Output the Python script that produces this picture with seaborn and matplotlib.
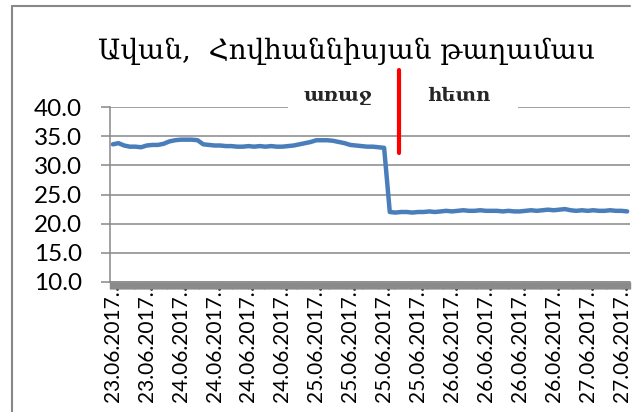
import matplotlib
matplotlib.use("Agg")
import matplotlib.pyplot as plt
import seaborn as sns
import pandas as pd
from matplotlib.ticker import MultipleLocator, FixedLocator
from matplotlib.lines import Line2D
from matplotlib.patches import Rectangle

# ---------------- data ----------------
title = "Ավան,  Հովհաննիսյան թաղամաս"
label_before = "առաջ"
label_after = "հետո"

# hourly readings before the change (23.06 12:00 ... 25.06 12:00)
values_before = [33.6, 33.8, 33.4, 33.2, 33.2, 33.1, 33.4, 33.5, 33.5, 33.7,
                 34.1, 34.3, 34.4, 34.4, 34.4, 34.3, 33.6, 33.5, 33.4, 33.4,
                 33.3, 33.3, 33.2, 33.2, 33.3, 33.2, 33.3, 33.2, 33.3, 33.2,
                 33.2, 33.3, 33.4, 33.6, 33.8, 34.0, 34.3, 34.3, 34.3, 34.2,
                 34.0, 33.8, 33.5, 33.4, 33.3, 33.2, 33.2, 33.1, 33.0]
# hourly readings after the change
values_after = [22.0, 21.9, 22.0, 22.0, 21.9, 22.0, 22.0, 22.1, 22.0, 22.1,
                22.2, 22.1, 22.2, 22.3, 22.2, 22.2, 22.3, 22.2, 22.2, 22.2,
                22.1, 22.2, 22.1, 22.1, 22.2, 22.3, 22.2, 22.3, 22.4, 22.3,
                22.4, 22.5, 22.3, 22.2, 22.3, 22.2, 22.3, 22.2, 22.2, 22.3,
                22.2, 22.2, 22.1]

tick_labels = ["23.06.2017…", "23.06.2017…",
               "24.06.2017…", "24.06.2017…", "24.06.2017…", "24.06.2017…",
               "25.06.2017…", "25.06.2017…", "25.06.2017…", "25.06.2017…",
               "26.06.2017…", "26.06.2017…", "26.06.2017…", "26.06.2017…",
               "27.06.2017…", "27.06.2017…"]
y_ticks = [10, 15, 20, 25, 30, 35, 40]

values = values_before + values_after
df = pd.DataFrame({"idx": list(range(len(values))), "value": values})
label_step = 6  # one label every 6 hourly points
label_pos = [i * label_step for i in range(len(tick_labels))]

# ---------------- style ----------------
sns.set_style("white")
plt.rcParams["font.family"] = ["Lato", "DejaVu Sans"]

W, H = 642, 412
fig = plt.figure(figsize=(W / 100, H / 100), dpi=100)
fig.patch.set_facecolor("white")

ax = fig.add_axes([110 / W, 1 - 282 / H, 520 / W, 175 / H])
sns.lineplot(data=df, x="idx", y="value", ax=ax, color="#4a7ebb",
             linewidth=3.2, solid_joinstyle="round", solid_capstyle="round")

grid_c = "#888888"
ax.set_xlim(-0.5, len(values) - 0.5)
ax.set_ylim(10, 40)
ax.set_yticks(y_ticks)
ax.set_yticklabels([f"{v:.1f}" for v in y_ticks])
ax.yaxis.grid(True, color=grid_c, linewidth=1.1)
ax.xaxis.grid(False)
ax.set_axisbelow(True)
for s in ["top", "right"]:
    ax.spines[s].set_visible(False)
for s in ["left", "bottom"]:
    ax.spines[s].set_color(grid_c)
    ax.spines[s].set_linewidth(1.1)
ax.set_xlabel("")
ax.set_ylabel("")

ax.tick_params(axis="y", left=True, length=6.5, width=1.1, color=grid_c,
               pad=13.5, labelsize=17.5, labelcolor="black")
ax.xaxis.set_major_locator(FixedLocator(label_pos))
ax.set_xticklabels(tick_labels, rotation=90)
ax.xaxis.set_minor_locator(MultipleLocator(1 / 6))
ax.tick_params(axis="x", which="both", bottom=True, length=5, width=1.0,
               color="#8a8a8a", direction="out")
ax.tick_params(axis="x", which="major", pad=-7, labelsize=15,
               labelcolor="black")

# chart-area border
fig.add_artist(Line2D([12 / W, 12 / W], [0, 1 - 6 / H], transform=fig.transFigure,
                      color=grid_c, linewidth=1.5))
fig.add_artist(Line2D([12 / W, 630 / W], [1 - 6 / H, 1 - 6 / H],
                      transform=fig.transFigure, color=grid_c, linewidth=1.5))

# title
fig.text(346 / W, 1 - 51 / H, title, ha="center", va="center", fontsize=20,
         family=["DejaVu Serif", "DejaVu Sans"], color="black")

# white text box with annotations
fig.add_artist(Rectangle((288 / W, 1 - 122 / H), 230 / W, 44 / H,
                         transform=fig.transFigure, facecolor="white",
                         edgecolor="none", zorder=2))
fig.text(338 / W, 1 - 96 / H, label_before, ha="center", va="center",
         fontsize=14, fontweight="bold", family=["DejaVu Serif", "DejaVu Sans"],
         zorder=3)
fig.text(459 / W, 1 - 96 / H, label_after, ha="center", va="center",
         fontsize=14, fontweight="bold", family=["DejaVu Serif", "DejaVu Sans"],
         zorder=3)
fig.add_artist(Line2D([399 / W, 399 / W], [1 - 153 / H, 1 - 70 / H],
                      transform=fig.transFigure, color="#ff0000",
                      linewidth=3.0, zorder=4))

fig.savefig("out.png", dpi=100)
